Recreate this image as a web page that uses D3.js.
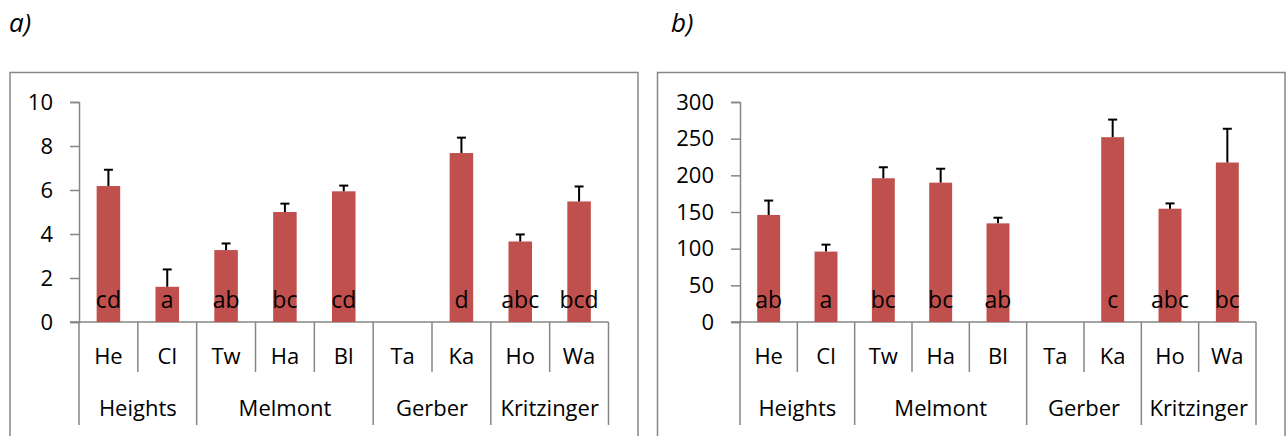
<!DOCTYPE html>
<html>
<head>
<meta charset="utf-8">
<script src="https://cdn.jsdelivr.net/npm/d3@7/dist/d3.min.js"></script>
<style>
  body { margin: 0; background: #fff; }
  svg { display: block; font-family: "Open Sans", sans-serif; }
</style>
</head>
<body>
<svg id="chart" width="1288" height="436"></svg>
<script>
// sites (short codes) and the farm each belongs to
const sites = ['He', 'Cl', 'Tw', 'Ha', 'Bl', 'Ta', 'Ka', 'Ho', 'Wa']
const groups = [
  { name: 'Heights', from: 'He', to: 'Cl' },
  { name: 'Melmont', from: 'Tw', to: 'Bl' },
  { name: 'Gerber', from: 'Ta', to: 'Ka' },
  { name: 'Kritzinger', from: 'Ho', to: 'Wa' },
]

// panel a) - null means no bar
const valuesA = [6.18, 1.6, 3.27, 5.0, 5.94, null, 7.68, 3.66, 5.48]
const errorsA = [0.74, 0.79, 0.3, 0.38, 0.26, null, 0.7, 0.32, 0.68]
const lettersA = ['cd', 'a', 'ab', 'bc', 'cd', '', 'd', 'abc', 'bcd']
const ticksA = [0, 2, 4, 6, 8, 10]

// panel b)
const valuesB = [146, 96, 196, 190, 134.5, null, 252, 154.5, 217.5]
const errorsB = [19.6, 9.5, 15, 19, 7.7, null, 24, 7.2, 46]
const lettersB = ['ab', 'a', 'bc', 'bc', 'ab', '', 'c', 'abc', 'bc']
const ticksB = [0, 50, 100, 150, 200, 250, 300]

const BAR_COLOR = '#C0504D'
const AXIS_COLOR = '#868686'
const FONT_SIZE = 22

const svg = d3.select('#chart')

function drawPanel(p) {
  const g = svg.append('g')

  // outer frame (bottom edge runs off the picture)
  g.append('rect')
    .attr('x', p.frame[0]).attr('y', p.frame[1])
    .attr('width', p.frame[2]).attr('height', 420)
    .attr('fill', 'none').attr('stroke', AXIS_COLOR).attr('stroke-width', 1.5)

  g.append('text')
    .attr('x', p.titleX).attr('y', 32)
    .attr('font-size', 26).attr('font-style', 'italic')
    .text(p.title)

  const x = d3.scaleBand().domain(sites).range([p.left, p.right]).paddingInner(0).paddingOuter(0)
  const y = d3.scaleLinear().domain([0, p.ticks[p.ticks.length - 1]]).range([322, 102])
  const barW = x.bandwidth() * 0.4

  // y axis
  const yAxis = g.append('g')
    .attr('transform', `translate(${p.left},0)`)
    .call(d3.axisLeft(y).tickValues(p.ticks).tickSize(9).tickPadding(17))
  yAxis.select('.domain').attr('stroke', AXIS_COLOR).attr('stroke-width', 1.5)
  yAxis.selectAll('.tick line').attr('stroke', AXIS_COLOR).attr('stroke-width', 1.5)
  yAxis.selectAll('.tick text')
    .attr('font-size', FONT_SIZE).attr('font-family', '"Open Sans", sans-serif').attr('fill', '#000')

  // baseline
  g.append('line')
    .attr('x1', p.left - 9).attr('x2', p.right)
    .attr('y1', y(0)).attr('y2', y(0))
    .attr('stroke', AXIS_COLOR).attr('stroke-width', 1.5)

  // separators: short ones between sites, long ones between farms
  const groupEdges = new Set([p.left, p.right])
  groups.forEach((gr) => {
    groupEdges.add(x(gr.from))
    groupEdges.add(x(gr.to) + x.bandwidth())
  })
  const edges = sites.map((s) => x(s)).concat([p.right])
  g.selectAll('line.sep')
    .data(edges)
    .enter()
    .append('line')
    .attr('class', 'sep')
    .attr('x1', (d) => d).attr('x2', (d) => d)
    .attr('y1', y(0))
    .attr('y2', (d) => ([...groupEdges].some((e) => Math.abs(e - d) < 0.5) ? 425 : 372))
    .attr('stroke', AXIS_COLOR).attr('stroke-width', 1.5)

  // site labels
  g.selectAll('text.site')
    .data(sites)
    .enter()
    .append('text')
    .attr('class', 'site')
    .attr('x', (d) => x(d) + x.bandwidth() / 2)
    .attr('y', 364)
    .attr('text-anchor', 'middle')
    .attr('font-size', FONT_SIZE)
    .text((d) => d)

  // farm labels
  g.selectAll('text.group')
    .data(groups)
    .enter()
    .append('text')
    .attr('class', 'group')
    .attr('x', (d) => (x(d.from) + x(d.to) + x.bandwidth()) / 2)
    .attr('y', 416)
    .attr('text-anchor', 'middle')
    .attr('font-size', FONT_SIZE)
    .text((d) => d.name)

  const rows = sites.map((s, i) => ({ site: s, v: p.values[i], e: p.errors[i], l: p.letters[i] }))
  const withBar = rows.filter((d) => d.v != null)

  // bars
  g.selectAll('rect.bar')
    .data(withBar)
    .enter()
    .append('rect')
    .attr('class', 'bar')
    .attr('x', (d) => x(d.site) + (x.bandwidth() - barW) / 2)
    .attr('width', barW)
    .attr('y', (d) => y(d.v))
    .attr('height', (d) => y(0) - y(d.v))
    .attr('fill', BAR_COLOR)

  // error bars (upper only)
  const cx = (d) => x(d.site) + x.bandwidth() / 2
  g.selectAll('line.err')
    .data(withBar)
    .enter()
    .append('line')
    .attr('x1', cx).attr('x2', cx)
    .attr('y1', (d) => y(d.v)).attr('y2', (d) => y(d.v + d.e))
    .attr('stroke', '#000').attr('stroke-width', 2)
  g.selectAll('line.cap')
    .data(withBar)
    .enter()
    .append('line')
    .attr('x1', (d) => cx(d) - 4.5).attr('x2', (d) => cx(d) + 4.5)
    .attr('y1', (d) => y(d.v + d.e)).attr('y2', (d) => y(d.v + d.e))
    .attr('stroke', '#000').attr('stroke-width', 2)

  // significance letters
  g.selectAll('text.letter')
    .data(rows)
    .enter()
    .append('text')
    .attr('x', cx)
    .attr('y', y(0) - 14)
    .attr('text-anchor', 'middle')
    .attr('font-size', 23)
    .text((d) => d.l)
}

drawPanel({
  title: 'a)', titleX: 9,
  frame: [10, 72.5, 628],
  left: 79, right: 608.5,
  ticks: ticksA, values: valuesA, errors: errorsA, letters: lettersA,
})

drawPanel({
  title: 'b)', titleX: 671,
  frame: [657.5, 72.5, 627.5],
  left: 740, right: 1256,
  ticks: ticksB, values: valuesB, errors: errorsB, letters: lettersB,
})
</script>
</body>
</html>
